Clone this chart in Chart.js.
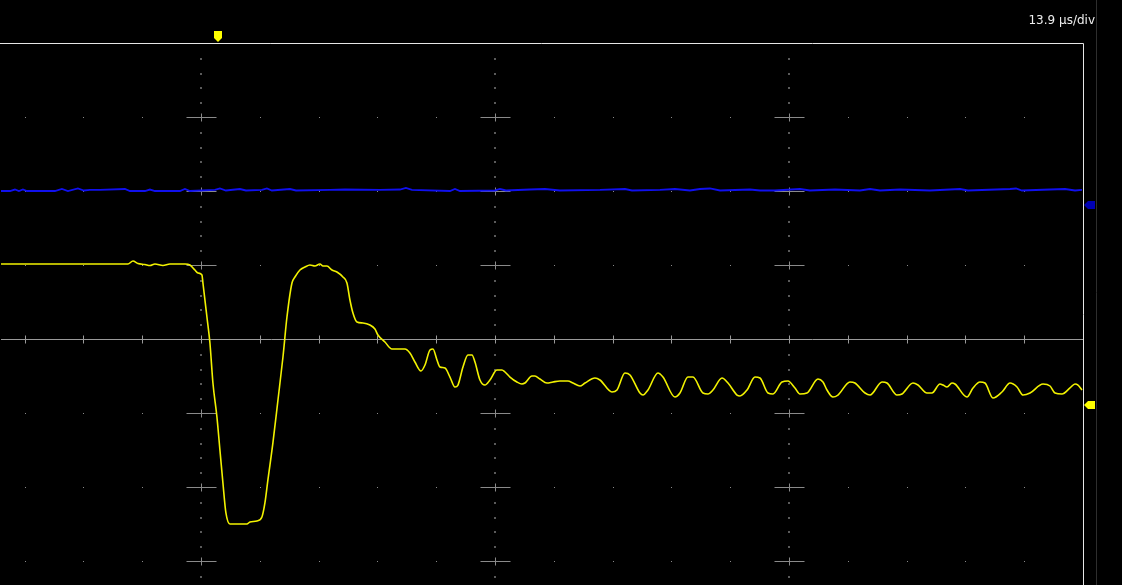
<!DOCTYPE html>
<html>
<head>
<meta charset="utf-8">
<script src="https://cdn.jsdelivr.net/npm/chart.js@4/dist/chart.umd.min.js"></script>
<style>
    html, body { margin: 0; padding: 0; background: #000; }
    #wrap { width: 1122px; height: 585px; position: relative; }
</style>
</head>
<body>
<div id="wrap"><canvas id="scope" width="1122" height="585"></canvas></div>
<script>
// time in minor divisions (0 = trigger graticule line), level in major divisions
const ch1Time = [-3.401, -2.398, -1.241, -1.156, -1.071, -0.952, -0.867, -0.782, -0.646, -0.527,
    -0.272, -0.187, -0.102, -0.051, 0.017, 0.034, 0.102, 0.153, 0.204, 0.272,
    0.323, 0.374, 0.425, 0.493, 0.782, 0.833, 0.952, 1.037, 1.088, 1.139,
    1.224, 1.310, 1.395, 1.463, 1.548, 1.599, 1.684, 1.769, 1.854, 1.939,
    2.024, 2.075, 2.143, 2.228, 2.313, 2.415, 2.483, 2.534, 2.585, 2.653,
    2.755, 2.874, 2.959, 3.010, 3.129, 3.248, 3.469, 3.554, 3.639, 3.741,
    3.810, 3.895, 3.946, 4.014, 4.065, 4.150, 4.235, 4.320, 4.371, 4.456,
    4.541, 4.609, 4.660, 4.745, 4.830, 4.915, 5.034, 5.119, 5.170, 5.255,
    5.374, 5.459, 5.510, 5.629, 5.680, 5.765, 5.884, 5.986, 6.105, 6.241,
    6.327, 6.446, 6.531, 6.701, 6.786, 6.990, 7.075, 7.211, 7.296, 7.466,
    7.517, 7.602, 7.772, 7.857, 8.061, 8.146, 8.282, 8.367, 8.537, 8.622,
    8.707, 8.861, 8.963, 9.116, 9.167, 9.286, 9.422, 9.507, 9.643, 9.728,
    9.881, 9.983, 10.102, 10.187, 10.306, 10.493, 10.578, 10.646, 10.748, 10.833,
    11.037, 11.122, 11.293, 11.378, 11.582, 11.667, 11.837, 11.922, 12.109, 12.194,
    12.347, 12.432, 12.568, 12.619, 12.687, 12.772, 12.823, 13.027, 13.129, 13.248,
    13.333, 13.469, 13.622, 13.759, 13.878, 13.980, 14.099, 14.320, 14.439, 14.524,
    14.643, 14.779, 14.864, 14.915, 14.983];
const ch1Level = [1.014, 1.014, 1.014, 1.054, 1.020, 1.007, 0.993, 1.014, 0.993, 1.014,
    1.014, 1.000, 0.932, 0.892, 0.865, 0.757, 0.297, -0.054, -0.595, -1.054,
    -1.500, -1.946, -2.351, -2.500, -2.500, -2.473, -2.459, -2.405, -2.216, -1.905,
    -1.405, -0.824, -0.243, 0.297, 0.757, 0.838, 0.932, 0.973, 1.000, 0.986,
    1.014, 0.986, 0.986, 0.932, 0.905, 0.838, 0.757, 0.527, 0.351, 0.230,
    0.216, 0.189, 0.135, 0.054, -0.041, -0.135, -0.135, -0.189, -0.311, -0.432,
    -0.351, -0.149, -0.135, -0.284, -0.378, -0.392, -0.514, -0.649, -0.622, -0.378,
    -0.216, -0.216, -0.311, -0.554, -0.622, -0.554, -0.419, -0.419, -0.446, -0.514,
    -0.581, -0.608, -0.595, -0.500, -0.500, -0.541, -0.595, -0.581, -0.568, -0.568,
    -0.595, -0.635, -0.595, -0.527, -0.554, -0.716, -0.689, -0.459, -0.486, -0.730,
    -0.757, -0.689, -0.459, -0.514, -0.784, -0.730, -0.514, -0.514, -0.730, -0.743,
    -0.689, -0.527, -0.595, -0.757, -0.770, -0.689, -0.514, -0.527, -0.730, -0.743,
    -0.581, -0.568, -0.662, -0.743, -0.730, -0.541, -0.581, -0.689, -0.784, -0.757,
    -0.581, -0.595, -0.730, -0.757, -0.581, -0.595, -0.757, -0.743, -0.595, -0.622,
    -0.730, -0.730, -0.608, -0.622, -0.649, -0.595, -0.608, -0.784, -0.662, -0.581,
    -0.595, -0.797, -0.716, -0.595, -0.649, -0.757, -0.730, -0.608, -0.635, -0.730,
    -0.743, -0.662, -0.608, -0.622, -0.689];

const ch2Time = [-3.401, -3.248, -3.163, -3.095, -3.027, -2.959, -2.483, -2.364, -2.262, -2.092,
    -1.990, -1.888, -1.718, -1.293, -1.207, -0.952, -0.867, -0.782, -0.357, -0.272,
    -0.187, 0.238, 0.323, 0.425, 0.663, 0.765, 1.037, 1.122, 1.207, 1.514,
    1.616, 2.194, 2.449, 3.044, 3.384, 3.486, 3.588, 4.235, 4.320, 4.405,
    5.000, 5.085, 5.187, 5.595, 5.850, 6.105, 6.786, 7.211, 7.330, 7.806,
    8.061, 8.316, 8.486, 8.656, 8.827, 9.337, 9.507, 9.762, 10.187, 10.357,
    10.782, 11.207, 11.378, 11.548, 11.888, 12.398, 12.908, 13.044, 13.759, 13.861,
    13.963, 14.439, 14.694, 14.864, 14.983];
const ch2Level = [2.000, 2.000, 2.020, 2.000, 2.020, 2.000, 2.000, 2.027, 2.000, 2.034,
    2.007, 2.014, 2.014, 2.027, 2.000, 2.000, 2.020, 2.000, 2.000, 2.027,
    2.000, 2.014, 2.034, 2.007, 2.027, 2.007, 2.014, 2.034, 2.007, 2.027,
    2.007, 2.014, 2.020, 2.014, 2.020, 2.041, 2.014, 2.000, 2.027, 2.000,
    2.007, 2.027, 2.007, 2.020, 2.027, 2.007, 2.014, 2.027, 2.007, 2.014,
    2.027, 2.007, 2.027, 2.034, 2.007, 2.020, 2.007, 2.007, 2.027, 2.007,
    2.020, 2.007, 2.027, 2.007, 2.020, 2.007, 2.027, 2.007, 2.027, 2.034,
    2.007, 2.020, 2.027, 2.007, 2.014];

const timebaseLabel = '13.9 µs/div';
const triggerTime = 0.289;
const ch1Marker = -0.89;
const ch2Marker = 1.81;

const toPoints = (xs, ys) => xs.map((x, i) => ({ x: x, y: ys[i] }));

// Graticule: dotted rows/columns, crosshairs, centre line with ticks
const graticule = {
    id: 'graticule',
    beforeDatasetsDraw(chart) {
        const { ctx, chartArea: a, scales: { x, y } } = chart;
        ctx.save();

        // dots along each major row
        ctx.fillStyle = '#8a8a8a';
        for (let r = -3; r <= 3; r++) {
            if (r === 0) continue;
            const py = Math.round(y.getPixelForValue(r));
            for (let c = -3; c <= 14; c++) {
                if (c % 5 === 0) continue;
                ctx.fillRect(Math.round(x.getPixelForValue(c)), py, 1, 1);
            }
        }

        // dots along each major column
        ctx.fillStyle = '#5a5a5a';
        [0, 5, 10].forEach(c => {
            const px = Math.round(x.getPixelForValue(c));
            for (let k = -17; k <= 19; k++) {
                if (k % 5 === 0) continue;
                ctx.fillRect(px - 1, Math.round(y.getPixelForValue(k * 0.2)), 2, 2);
            }
        });

        // centre line
        const cy = Math.round(y.getPixelForValue(0)) + 0.5;
        ctx.strokeStyle = '#9a9a9a';
        ctx.lineWidth = 1;
        ctx.beginPath();
        ctx.moveTo(a.left, cy);
        ctx.lineTo(a.right, cy);
        for (let c = -3; c <= 14; c++) {
            const px = Math.round(x.getPixelForValue(c)) + 0.5;
            ctx.moveTo(px, cy - 4);
            ctx.lineTo(px, cy + 4);
        }
        ctx.stroke();

        // crosshairs
        ctx.strokeStyle = '#8a8a8a';
        ctx.beginPath();
        [0, 5, 10].forEach(c => {
            const px = Math.round(x.getPixelForValue(c)) + 0.5;
            for (let r = -3; r <= 3; r++) {
                if (r === 0) continue;
                const py = Math.round(y.getPixelForValue(r)) + 0.5;
                ctx.moveTo(px - 15, py);
                ctx.lineTo(px + 15, py);
                ctx.moveTo(px, py - 4);
                ctx.lineTo(px, py + 4);
            }
        });
        ctx.stroke();
        ctx.restore();
    },
    afterDraw(chart) {
        const { ctx, chartArea: a, scales: { x, y } } = chart;
        ctx.save();

        // frame
        ctx.strokeStyle = '#e6e6e6';
        ctx.lineWidth = 1;
        ctx.beginPath();
        ctx.moveTo(0, a.top + 0.5);
        ctx.lineTo(a.right + 0.5, a.top + 0.5);
        ctx.lineTo(a.right + 0.5, chart.height);
        ctx.stroke();
        ctx.strokeStyle = '#2e2e2e';
        ctx.beginPath();
        ctx.moveTo(a.right + 13.5, 0);
        ctx.lineTo(a.right + 13.5, chart.height);
        ctx.stroke();

        // trigger position marker
        const tx = Math.round(x.getPixelForValue(triggerTime));
        ctx.fillStyle = '#ffff00';
        ctx.beginPath();
        ctx.moveTo(tx - 4, a.top - 12);
        ctx.lineTo(tx + 4, a.top - 12);
        ctx.lineTo(tx + 4, a.top - 5);
        ctx.lineTo(tx, a.top - 1);
        ctx.lineTo(tx - 4, a.top - 5);
        ctx.closePath();
        ctx.fill();

        // channel level markers
        const marker = (level, color) => {
            const py = Math.round(y.getPixelForValue(level));
            ctx.fillStyle = color;
            ctx.beginPath();
            ctx.moveTo(a.right + 1, py);
            ctx.lineTo(a.right + 5, py - 4);
            ctx.lineTo(a.right + 12, py - 4);
            ctx.lineTo(a.right + 12, py + 4);
            ctx.lineTo(a.right + 5, py + 4);
            ctx.closePath();
            ctx.fill();
        };
        marker(ch2Marker, '#0000b4');
        marker(ch1Marker, '#ffff00');

        // timebase readout
        ctx.fillStyle = '#eeeeee';
        ctx.font = '12px "DejaVu Sans", sans-serif';
        ctx.textAlign = 'right';
        ctx.textBaseline = 'alphabetic';
        ctx.fillText(timebaseLabel, a.right + 12, 24);
        ctx.restore();
    }
};

new Chart(document.getElementById('scope'), {
    type: 'line',
    data: {
        datasets: [
            {
                label: 'CH1',
                data: toPoints(ch1Time, ch1Level),
                borderColor: '#f2f200',
                borderWidth: 1.6,
                pointRadius: 0,
                cubicInterpolationMode: 'monotone',
                fill: false
            },
            {
                label: 'CH2',
                data: toPoints(ch2Time, ch2Level),
                borderColor: '#1010ee',
                borderWidth: 1.8,
                pointRadius: 0,
                tension: 0,
                fill: false
            }
        ]
    },
    options: {
        responsive: false,
        animation: false,
        events: [],
        layout: { padding: { left: 1, right: 39, top: 43, bottom: 0 } },
        plugins: {
            legend: { display: false },
            title: { display: false },
            tooltip: { enabled: false }
        },
        scales: {
            x: { type: 'linear', min: -3.4, max: 15, display: false },
            y: { type: 'linear', min: -3.3243, max: 4, display: false }
        }
    },
    plugins: [graticule]
});
</script>
</body>
</html>
